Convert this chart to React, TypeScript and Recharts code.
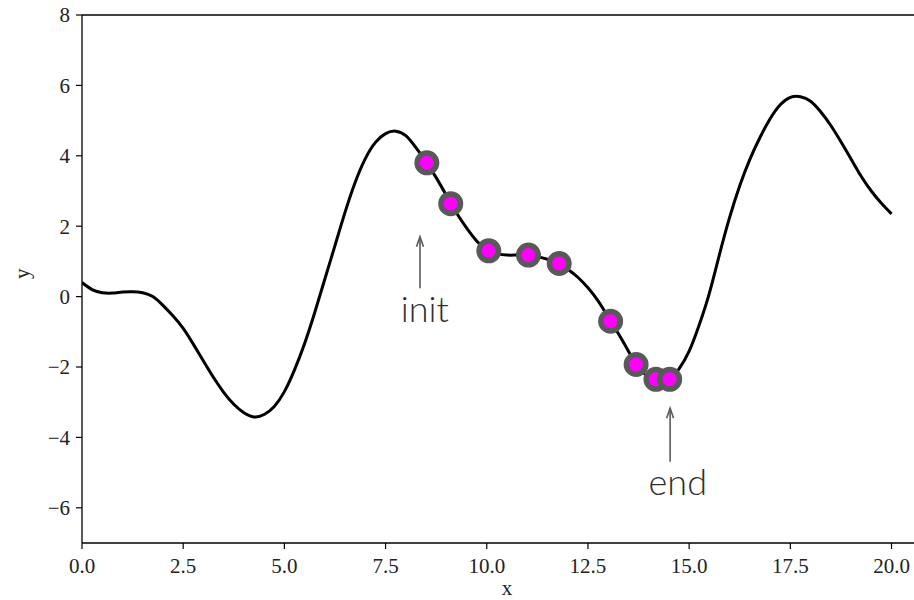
import React from 'react';
import { ComposedChart, Line, Scatter, XAxis, YAxis, ReferenceLine, ReferenceDot } from 'recharts';

// Objective curve
const curveX = [
  0, 0.25, 0.5, 0.75, 1, 1.25, 1.5, 1.75, 2, 2.25, 2.5, 2.75, 3, 3.25, 3.5, 3.75,
  4, 4.25, 4.5, 4.75, 5, 5.25, 5.5, 5.75, 6, 6.25, 6.5, 6.75, 7, 7.25, 7.5, 7.75,
  8, 8.25, 8.5, 8.75, 9, 9.25, 9.5, 9.75, 10, 10.25, 10.5, 10.75, 11, 11.25, 11.5, 11.75,
  12, 12.25, 12.5, 12.75, 13, 13.25, 13.5, 13.75, 14, 14.25, 14.5, 14.75, 15, 15.25, 15.5, 15.75,
  16, 16.25, 16.5, 16.75, 17, 17.25, 17.5, 17.75, 18, 18.25, 18.5, 18.75, 19, 19.25, 19.5, 19.75, 20,
];
const curveY = [
  0.40, 0.20, 0.11, 0.10, 0.13, 0.14, 0.11, 0.00, -0.25, -0.55, -0.90, -1.35, -1.83, -2.30, -2.72, -3.06,
  -3.30, -3.42, -3.35, -3.12, -2.70, -2.08, -1.33, -0.45, 0.50, 1.45, 2.40, 3.25, 3.92, 4.38, 4.63, 4.70,
  4.57, 4.23, 3.83, 3.38, 2.88, 2.38, 1.95, 1.58, 1.33, 1.22, 1.18, 1.18, 1.17, 1.13, 1.06, 0.95,
  0.78, 0.55, 0.25, -0.12, -0.58, -1.05, -1.55, -2.02, -2.28, -2.38, -2.35, -2.05, -1.55, -0.80, 0.10, 1.20,
  2.25, 3.15, 3.90, 4.52, 5.05, 5.45, 5.66, 5.68, 5.55, 5.25, 4.86, 4.40, 3.91, 3.42, 3.00, 2.65, 2.35,
];

// Optimisation path points
const pathX = [8.52, 9.11, 10.05, 11.03, 11.79, 13.06, 13.69, 14.18, 14.52];
const pathY = [3.80, 2.64, 1.30, 1.18, 0.94, -0.70, -1.93, -2.35, -2.35];

const xTicks = [0, 2.5, 5, 7.5, 10, 12.5, 15, 17.5, 20];
const yTicks = [-6, -4, -2, 0, 2, 4, 6, 8];

// Annotations
const initArrow = [{ x: 8.35, y: 0.24 }, { x: 8.35, y: 1.7 }];
const initText = { x: 8.47, y: -0.72, label: 'init' };
const endArrow = [{ x: 14.53, y: -4.69 }, { x: 14.53, y: -3.17 }];
const endText = { x: 14.72, y: -5.64, label: 'end' };

const curveData = curveX.map((x, i) => ({ x, y: curveY[i] }));
const pathData = pathX.map((x, i) => ({ x, y: pathY[i] }));

const SERIF = '"Liberation Serif", "DejaVu Serif", serif';
const ANNOT = 'Lato, "Open Sans", sans-serif';

const fmtX = (v: number) => v.toFixed(1);
const fmtY = (v: number) => (v < 0 ? '\u2212' + Math.abs(v) : String(v));

const Marker = (p: any) => (
  <circle cx={p.cx} cy={p.cy} r={9.75} fill="#ff00ff" stroke="#595959" strokeWidth={5.5} />
);

const Arrow = (p: any) => {
  const { x1, y1, x2, y2 } = p;
  const dir = y2 < y1 ? 1 : -1;
  return (
    <g>
      <line x1={x1} y1={y1} x2={x2} y2={y2} stroke="#5a5a5a" strokeWidth={1.6} />
      <path
        d={`M${x2 - 3.5},${y2 + dir * 10} L${x2},${y2} L${x2 + 3.5},${y2 + dir * 10}`}
        fill="none"
        stroke="#5a5a5a"
        strokeWidth={1.6}
      />
    </g>
  );
};

const makeText = (label: string) => (p: any) => (
  <text
    x={p.cx}
    y={p.cy}
    textAnchor="middle"
    fontFamily={ANNOT}
    fontWeight={300}
    fontSize={36}
    fill="#2e2e2e"
  >
    {label}
  </text>
);

export default function App() {
  return (
    <div style={{ position: 'absolute', left: 0, top: 0, width: 914, height: 600, overflow: 'hidden', background: '#fff' }}>
      <ComposedChart width={932} height={600} margin={{ top: 15, right: 0, bottom: 0, left: 0 }}>
        <XAxis
          dataKey="x"
          type="number"
          domain={[0, 21]}
          ticks={xTicks}
          tickFormatter={fmtX}
          allowDataOverflow
          height={57}
          stroke="#000"
          tickSize={6}
          tickMargin={9}
          tick={{ fill: '#222', fontFamily: SERIF, fontSize: 21 }}
          axisLine={{ stroke: '#000', strokeWidth: 1.3 }}
          tickLine={{ stroke: '#000', strokeWidth: 1.2 }}
          label={{ value: 'x', position: 'insideBottom', offset: 5, fill: '#222', fontFamily: SERIF, fontSize: 21 }}
        />
        <YAxis
          dataKey="y"
          type="number"
          domain={[-7, 8]}
          ticks={yTicks}
          tickFormatter={fmtY}
          allowDataOverflow
          width={82}
          stroke="#000"
          tickSize={6}
          tickMargin={6}
          tick={{ fill: '#222', fontFamily: SERIF, fontSize: 21 }}
          axisLine={{ stroke: '#000', strokeWidth: 1.3 }}
          tickLine={{ stroke: '#000', strokeWidth: 1.2 }}
          label={{ value: 'y', angle: -90, position: 'insideLeft', offset: 22, fill: '#222', fontFamily: SERIF, fontSize: 21 }}
        />
        <ReferenceLine y={8} stroke="#000" strokeWidth={1.3} />
        <Line
          data={curveData}
          dataKey="y"
          type="natural"
          stroke="#000"
          strokeWidth={3}
          dot={false}
          activeDot={false}
          isAnimationActive={false}
        />
        <Scatter data={pathData} dataKey="y" shape={Marker} isAnimationActive={false} />
        <ReferenceLine segment={initArrow} shape={Arrow} />
        <ReferenceLine segment={endArrow} shape={Arrow} />
        <ReferenceDot x={initText.x} y={initText.y} r={0} shape={makeText(initText.label)} />
        <ReferenceDot x={endText.x} y={endText.y} r={0} shape={makeText(endText.label)} />
      </ComposedChart>
    </div>
  );
}
